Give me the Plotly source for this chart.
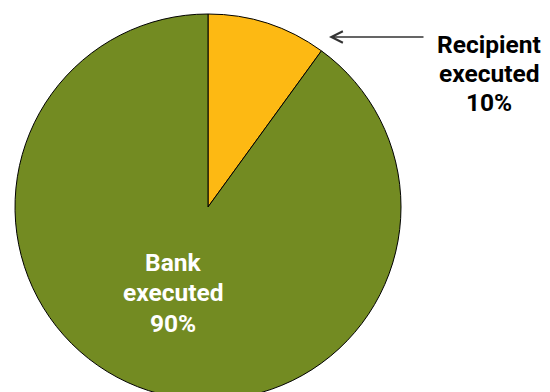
import plotly.graph_objects as go

labels = ["Recipient executed", "Bank executed"]
values = [10, 90]
colors = ["#FDB913", "#738B22"]

W, H = 550, 400
T = 14
FONT = "Roboto, Arial"
SIZE = 24.5

def px_x(x):
    return x / W

def px_y(y):
    return (H - y) / (H - T)

fig = go.Figure(go.Pie(
    labels=labels,
    values=values,
    marker=dict(colors=colors, line=dict(color="#000000", width=1)),
    sort=False,
    direction="clockwise",
    rotation=0,
    textinfo="none",
    hoverinfo="label+percent",
    domain=dict(x=[15 / W, 401 / W], y=[0, 1]),
    showlegend=False,
))

def label_lines(lbl, v):
    return lbl.split(" ") + [f"{v}%"]

annotations = []
# Bank label lines (baselines approx 271, 301, 332)
for line, base in zip(label_lines(labels[1], values[1]), [271, 301, 332]):
    annotations.append(dict(text=line, x=px_x(173), y=px_y(base - 0.36 * SIZE),
                            xref="paper", yref="paper", showarrow=False,
                            xanchor="center", yanchor="middle",
                            font=dict(family=FONT, size=SIZE, color="white", weight="bold")))
# Recipient label lines (baselines approx 53, 82, 111)
for line, base in zip(label_lines(labels[0], values[0]), [53, 82, 111]):
    annotations.append(dict(text=line, x=px_x(489), y=px_y(base - 0.36 * SIZE),
                            xref="paper", yref="paper", showarrow=False,
                            xanchor="center", yanchor="middle",
                            font=dict(family=FONT, size=SIZE, color="black", weight="bold")))
annotations.append(dict(text="", x=px_x(329), y=px_y(37), xref="paper", yref="paper",
                        showarrow=True, ax=96, ay=0, arrowhead=5, arrowsize=1.6, arrowwidth=1.4,
                        arrowcolor="#333333", standoff=0))

fig.update_layout(
    width=W, height=H,
    margin=dict(l=0, r=0, t=T, b=0),
    paper_bgcolor="white",
    plot_bgcolor="white",
    annotations=annotations,
)

fig.write_html("out.html", post_script="document.documentElement.style.overflow='hidden';document.body.style.overflow='hidden';")
